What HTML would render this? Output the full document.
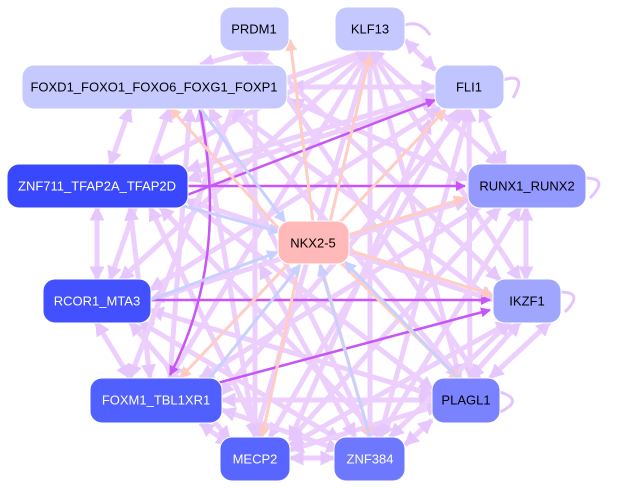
<!DOCTYPE html>
<html><head><meta charset="utf-8"><style>
html,body{margin:0;padding:0;background:#fff;width:617px;height:489px;overflow:hidden}
svg{display:block}
text{font-family:"Liberation Sans",sans-serif;font-size:13px;text-anchor:middle;dominant-baseline:central}
</style></head><body>
<svg width="617" height="489" viewBox="0 0 617 489">
<defs>
<marker id="a" viewBox="0 0 10 10" refX="9" refY="5" markerWidth="3" markerHeight="3" orient="auto-start-reverse"><path d="M0,0L10,5L0,10z" fill="#e4c4fd"/></marker>
<marker id="b" viewBox="0 0 10 10" refX="9" refY="5" markerWidth="4" markerHeight="4" orient="auto"><path d="M0,0L10,5L0,10z" fill="#c855f8"/></marker>
<marker id="c" viewBox="0 0 10 10" refX="9" refY="5" markerWidth="4" markerHeight="4" orient="auto"><path d="M0,0L10,5L0,10z" fill="#ffcac0"/></marker>
<marker id="d" viewBox="0 0 10 10" refX="9" refY="5" markerWidth="4" markerHeight="4" orient="auto"><path d="M0,0L10,5L0,10z" fill="#c8d0ff"/></marker>
</defs>
<g stroke="#ebcdfd" stroke-width="5" fill="none" marker-end="url(#a)" marker-start="url(#a)" opacity="0.95">
<line x1="255" y1="50" x2="200" y2="65"/>
<line x1="370" y1="50" x2="200" y2="108"/>
<line x1="370" y1="50" x2="150" y2="165"/>
<line x1="370" y1="50" x2="120" y2="280"/>
<line x1="370" y1="50" x2="170" y2="378"/>
<line x1="370" y1="50" x2="255" y2="437"/>
<line x1="370" y1="50" x2="370" y2="437"/>
<line x1="370" y1="50" x2="460" y2="378"/>
<line x1="370" y1="50" x2="520" y2="280"/>
<line x1="370" y1="50" x2="500" y2="165"/>
<line x1="405" y1="40" x2="435" y2="70"/>
<line x1="290" y1="87" x2="435" y2="87"/>
<line x1="230" y1="108" x2="493" y2="300"/>
<line x1="230" y1="108" x2="460" y2="378"/>
<line x1="210" y1="108" x2="370" y2="437"/>
<line x1="200" y1="108" x2="255" y2="437"/>
<line x1="190" y1="108" x2="170" y2="378"/>
<line x1="170" y1="108" x2="110" y2="280"/>
<line x1="130" y1="108" x2="110" y2="165"/>
<line x1="290" y1="100" x2="470" y2="180"/>
<line x1="469" y1="108" x2="220" y2="395"/>
<line x1="460" y1="108" x2="270" y2="437"/>
<line x1="469" y1="108" x2="380" y2="437"/>
<line x1="469" y1="108" x2="470" y2="378"/>
<line x1="480" y1="108" x2="505" y2="165"/>
<line x1="440" y1="108" x2="150" y2="290"/>
<line x1="435" y1="100" x2="187" y2="180"/>
<line x1="187" y1="200" x2="493" y2="300"/>
<line x1="187" y1="200" x2="433" y2="390"/>
<line x1="160" y1="207" x2="380" y2="437"/>
<line x1="150" y1="207" x2="260" y2="437"/>
<line x1="130" y1="207" x2="150" y2="378"/>
<line x1="97" y1="207" x2="97" y2="280"/>
<line x1="150" y1="300" x2="468" y2="200"/>
<line x1="150" y1="310" x2="433" y2="395"/>
<line x1="140" y1="322" x2="340" y2="440"/>
<line x1="130" y1="322" x2="230" y2="440"/>
<line x1="96" y1="322" x2="130" y2="378"/>
<line x1="222" y1="400" x2="433" y2="400"/>
<line x1="200" y1="378" x2="480" y2="207"/>
<line x1="222" y1="410" x2="340" y2="450"/>
<line x1="200" y1="423" x2="230" y2="445"/>
<line x1="290" y1="458" x2="334" y2="458"/>
<line x1="290" y1="440" x2="500" y2="207"/>
<line x1="290" y1="445" x2="510" y2="322"/>
<line x1="290" y1="450" x2="440" y2="405"/>
<line x1="380" y1="437" x2="520" y2="207"/>
<line x1="390" y1="437" x2="510" y2="322"/>
<line x1="405" y1="445" x2="432" y2="420"/>
<line x1="470" y1="378" x2="520" y2="322"/>
<line x1="490" y1="378" x2="550" y2="322"/>
<line x1="526" y1="207" x2="526" y2="280"/>
<line x1="255" y1="50" x2="255" y2="437"/>
<line x1="255" y1="50" x2="480" y2="380"/>
<line x1="255" y1="50" x2="130" y2="378"/>
<line x1="255" y1="50" x2="500" y2="280"/>
<line x1="187" y1="170" x2="435" y2="95"/>
<line x1="290" y1="440" x2="430" y2="120"/>
<line x1="355" y1="437" x2="260" y2="265"/>
</g>
<g fill="none" stroke-width="3">
<path d="M503,80 q25,-8 10,18" stroke="#e4c4fd"/>
<path d="M585,178 q25,0 5,20" stroke="#e4c4fd"/>
<path d="M560,292 q25,0 5,20" stroke="#e4c4fd"/>
<path d="M500,392 q25,8 0,20" stroke="#e4c4fd"/>
<path d="M405,25 q15,-5 25,10" stroke="#e4c4fd"/>
</g>
<g stroke="#c855f8" stroke-width="2.5" fill="none" marker-end="url(#b)">
<line x1="150" y1="300" x2="490" y2="300"/>
<line x1="210" y1="385" x2="490" y2="310"/>
<line x1="187" y1="186" x2="465" y2="186"/>
<line x1="187" y1="195" x2="435" y2="100"/>
<path d="M200,110 q30,150 -30,265"/>
</g>
<g stroke="#ffcdc4" stroke-width="3" fill="none" marker-end="url(#c)">
<line x1="313" y1="222" x2="290" y2="40"/>
<line x1="330" y1="222" x2="370" y2="55"/>
<line x1="340" y1="222" x2="445" y2="110"/>
<line x1="348" y1="235" x2="465" y2="198"/>
<line x1="348" y1="250" x2="493" y2="295"/>
<line x1="340" y1="262" x2="460" y2="380"/>
<line x1="320" y1="262" x2="370" y2="437"/>
<line x1="300" y1="262" x2="262" y2="437"/>
<line x1="290" y1="262" x2="180" y2="378"/>
<line x1="280" y1="230" x2="170" y2="108"/>
</g>
<g stroke="#c8d0ff" stroke-width="3" fill="none" marker-end="url(#d)">
<line x1="150" y1="300" x2="278" y2="252"/>
<line x1="180" y1="205" x2="280" y2="232"/>
<line x1="200" y1="108" x2="285" y2="222"/>
<line x1="370" y1="437" x2="320" y2="265"/>
<line x1="210" y1="378" x2="300" y2="265"/>
<line x1="460" y1="380" x2="345" y2="262"/>
</g>
<g stroke="#fff" stroke-width="1">
<rect x="220" y="7" width="69" height="44" rx="12" fill="#c6c9fd"/>
<rect x="335" y="7" width="70" height="44" rx="12" fill="#c4c8ff"/>
<rect x="22" y="65" width="265" height="44" rx="12" fill="#c6c9fd"/>
<rect x="435" y="65" width="69" height="44" rx="12" fill="#c0c4ff"/>
<rect x="7" y="164" width="181" height="44" rx="12" fill="#3a48fd"/>
<rect x="468" y="164" width="118" height="44" rx="12" fill="#9499ff"/>
<rect x="278" y="221" width="71" height="43" rx="12" fill="#ffb9b8"/>
<rect x="43" y="279" width="108" height="44" rx="12" fill="#4250fd"/>
<rect x="493" y="279" width="68" height="44" rx="12" fill="#a0a5fd"/>
<rect x="90" y="378" width="132" height="45" rx="12" fill="#5060ff"/>
<rect x="432" y="378" width="68" height="45" rx="12" fill="#7a82ff"/>
<rect x="220" y="437" width="70" height="44" rx="12" fill="#5866ff"/>
<rect x="334" y="437" width="71" height="44" rx="12" fill="#6e78ff"/>
</g>
<text x="254" y="29">PRDM1</text>
<text x="370" y="29">KLF13</text>
<text x="154" y="87">FOXD1_FOXO1_FOXO6_FOXG1_FOXP1</text>
<text x="469" y="87">FLI1</text>
<text x="97" y="186" fill="#fff">ZNF711_TFAP2A_TFAP2D</text>
<text x="527" y="186">RUNX1_RUNX2</text>
<text x="313" y="243">NKX2-5</text>
<text x="97" y="301" fill="#fff">RCOR1_MTA3</text>
<text x="527" y="301">IKZF1</text>
<text x="156" y="400" fill="#fff">FOXM1_TBL1XR1</text>
<text x="466" y="400">PLAGL1</text>
<text x="255" y="459" fill="#fff">MECP2</text>
<text x="370" y="459" fill="#fff">ZNF384</text>
</svg>
</body></html>
